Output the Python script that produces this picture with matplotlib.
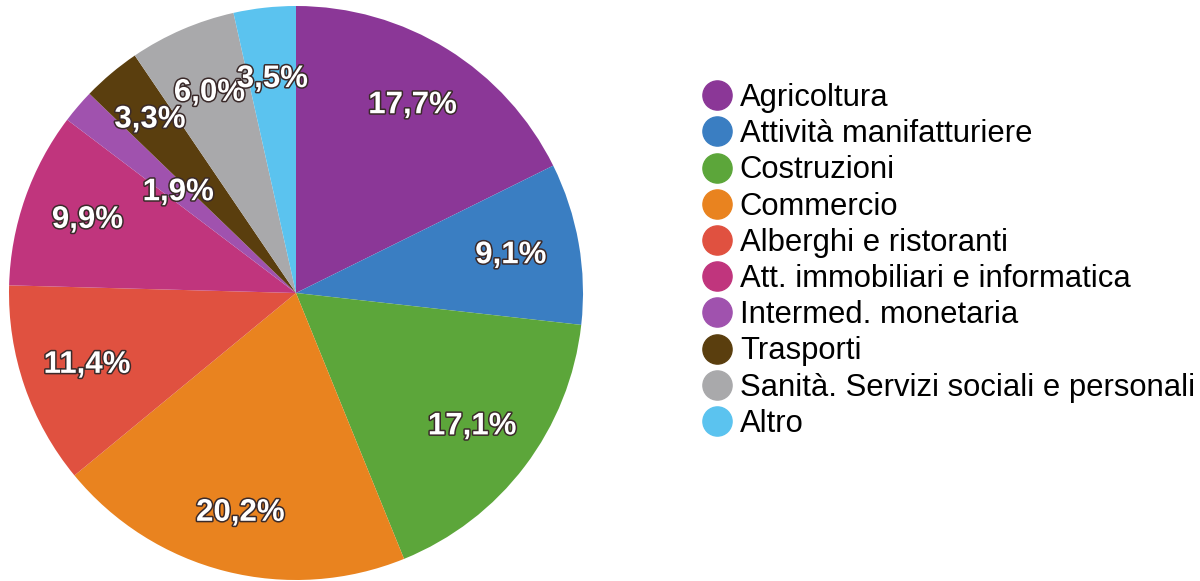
import matplotlib
matplotlib.use("Agg")
import matplotlib.pyplot as plt
import matplotlib.patheffects as pe
from matplotlib.lines import Line2D
import numpy as np

categories = ["Agricoltura", "Attività manifatturiere", "Costruzioni", "Commercio",
              "Alberghi e ristoranti", "Att. immobiliari e informatica",
              "Intermed. monetaria", "Trasporti", "Sanità. Servizi sociali e personali", "Altro"]
values = [17.7, 9.1, 17.1, 20.2, 11.4, 9.9, 1.9, 3.3, 6.0, 3.5]
labels = ["17,7%", "9,1%", "17,1%", "20,2%", "11,4%", "9,9%", "1,9%", "3,3%", "6,0%", "3,5%"]
colors = ["#8B3797", "#3A7EC2", "#5CA63A", "#E9831F", "#E05140",
          "#C0357D", "#A052AE", "#5A3E0E", "#A9A9AB", "#5BC3EF"]
label_dist = [0.77, 0.76, 0.77, 0.79, 0.77, 0.77, 0.54, 0.79, 0.76, 0.75]

plt.rcParams['font.family'] = ['Liberation Sans', 'DejaVu Sans']
fig = plt.figure(figsize=(12, 5.81), dpi=100)
W, H = 1200, 581
cx, cy, r = 296, 581 - 293, 287
ax = fig.add_axes([(cx - r) / W, (cy - r) / H, 2 * r / W, 2 * r / H])
wedges, _ = ax.pie(values, colors=colors, startangle=90, counterclock=False,
                   wedgeprops=dict(linewidth=0))
ax.set_xlim(-1, 1)
ax.set_ylim(-1, 1)
ax.set_aspect('equal')

for w, lab, d in zip(wedges, labels, label_dist):
    ang = np.deg2rad((w.theta1 + w.theta2) / 2)
    ax.text(d * np.cos(ang), d * np.sin(ang), lab, ha='center', va='center',
            fontsize=22.5, fontweight='bold', color='white',
            path_effects=[pe.withStroke(linewidth=2.2, foreground='#3a2a2a')])

handles = [Line2D([0], [0], marker='o', linestyle='none', markersize=21,
                  markerfacecolor=c, markeredgecolor=c) for c in colors]
fig.legend(handles, categories, loc='center left', bbox_to_anchor=(0.569, 0.551),
           frameon=False, fontsize=22.3, labelspacing=0.2, handletextpad=0.14,
           handlelength=1.2, borderpad=0)
fig.savefig("out.png", dpi=100)
